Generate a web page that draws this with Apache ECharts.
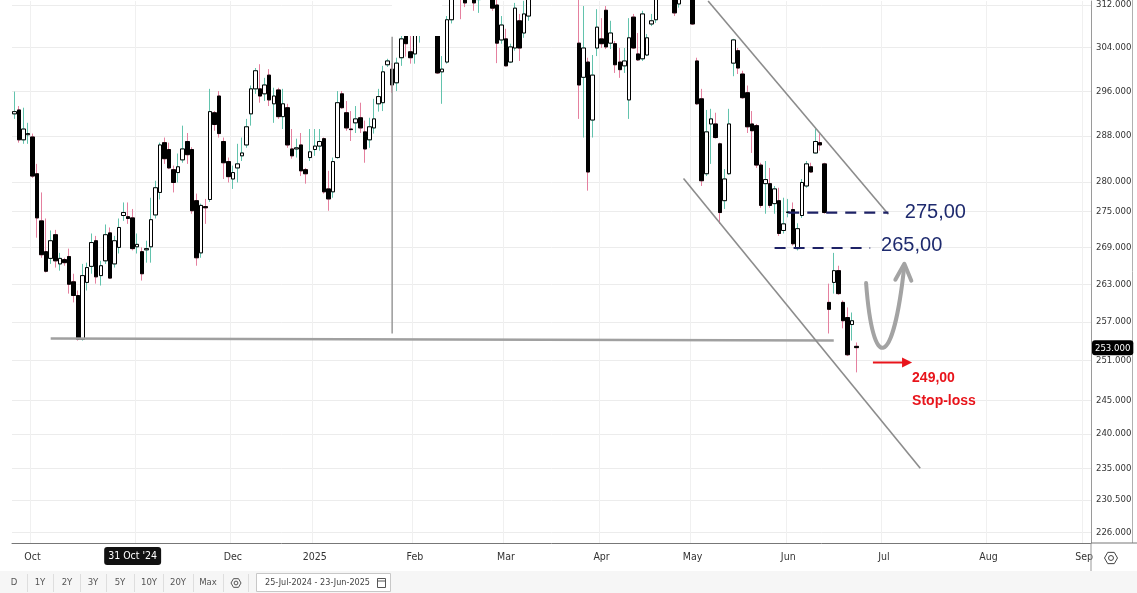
<!DOCTYPE html>
<html><head><meta charset="utf-8">
<script src="https://cdn.jsdelivr.net/npm/echarts@6/dist/echarts.min.js"></script>
<style>html,body{margin:0;padding:0;background:#fff}#c{width:1137px;height:593px}</style>
</head><body><div id="c"></div>
<script>
// ---- trading sessions (categories) ----
const sessionDays = {
  "2024-09":[25,26,27,30],
  "2024-10":[1,2,3,4,7,8,9,10,11,14,15,16,17,18,21,22,23,24,25,28,29,30,31],
  "2024-11":[1,4,5,6,7,8,11,12,13,14,15,18,19,20,21,22,25,26,27,28,29],
  "2024-12":[2,3,4,5,6,9,10,11,12,13,16,17,18,19,20,23,27,30],
  "2025-01":[2,3,6,7,8,9,10,13,14,15,16,17,20,21,22,23,24,27,28,29,30,31],
  "2025-02":[3,4,5,6,7,10,11,12,13,14,17,18,19,20,21,24,25,26,27,28],
  "2025-03":[3,4,5,6,7,10,11,12,13,14,17,18,19,20,21,24,25,26,27,28,31],
  "2025-04":[1,2,3,4,7,8,9,10,11,14,15,16,17,22,23,24,25,28,29,30],
  "2025-05":[2,5,6,7,8,9,12,13,14,15,16,19,20,21,22,23,26,27,28,29,30],
  "2025-06":[2,3,4,5,6,9,10,11,12,13,16,17,18,19,20,23,24,25,26,27,30],
  "2025-07":[1,2,3,4,7,8,9,10,11,14,15,16,17,18,21,22,23,24,25,28,29,30,31],
  "2025-08":[1,4,5,6,7,8,11,12,13,14,15,18,19,20,21,22,25,26,27,28,29],
  "2025-09":[1,2]
};
const monthNames = ["Jan","Feb","Mar","Apr","May","Jun","Jul","Aug","Sep","Oct","Nov","Dec"];

// ---- daily OHLC ----
const open = [
291.9,292.6,287.3,288.2,287.8,281.4,273.4,268.3,267.2,271.1,
266.3,267.0,267.5,263.4,261.2,254.3,263.3,265.9,270.1,264.4,
266.8,271.4,266.3,269.0,274.3,274.1,273.9,269.1,268.3,268.6,
269.1,274.4,278.2,286.8,285.6,282.1,281.6,283.8,287.0,285.6,
276.8,268.1,275.8,277.0,292.1,295.1,287.0,283.5,280.5,282.4,
284.5,286.4,291.9,296.4,296.4,295.5,298.9,293.7,296.2,291.4,
293.0,285.7,285.7,286.4,282.1,284.2,285.6,286.2,287.5,278.8,
278.3,284.2,295.5,292.1,289.2,290.3,291.2,288.7,287.3,289.4,
293.7,293.9,300.8,300.0,297.5,302.1,306.5,303.2,302.8,306.8,
308.0,309.2,307.5,307.0,299.5,301.3,309.2,313.5,316.0,314.5,
312.9,315.0,313.0,314.5,315.5,314.0,312.0,305.4,305.6,301.3,
303.9,309.0,306.7,309.9,313.5,316.2,318.0,317.2,319.5,318.0,
316.5,318.5,317.0,315.5,304.8,298.5,301.3,290.8,303.9,305.6,
311.0,304.8,304.7,301.3,300.6,294.4,309.7,302.8,301.9,302.6,
308.4,309.2,313.5,315.5,316.0,316.5,312.2,314.5,315.5,315.0,
301.5,294.6,281.4,290.1,290.1,286.6,276.8,281.4,301.1,303.4,
299.1,295.7,290.1,289.8,282.9,279.7,279.7,276.3,276.8,271.8,
274.8,275.3,268.8,274.3,279.3,282.6,285.0,286.8,283.1,260.1,
263.3,265.2,260.1,257.7,256.6,253.2];
const close = [
292.3,287.3,289.2,288.4,281.0,273.9,267.8,265.1,270.1,266.8,
267.2,266.5,263.0,261.2,254.3,264.4,265.7,269.8,264.2,266.0,
271.1,264.0,270.1,272.3,274.8,273.8,268.8,269.5,264.7,268.8,
273.6,279.0,286.4,284.0,282.4,279.9,282.6,285.7,284.7,275.1,
267.3,276.0,275.6,292.3,290.0,288.4,283.3,280.9,281.6,283.1,
285.0,289.6,296.4,299.7,295.1,297.1,294.4,295.1,291.4,293.7,
286.4,284.5,285.9,281.9,281.4,285.2,286.2,287.0,278.3,277.1,
283.5,293.9,293.0,289.4,289.1,291.0,289.4,285.7,289.6,291.0,
295.0,299.5,301.5,297.1,301.1,305.6,304.7,302.1,306.5,308.0,
309.2,307.8,308.4,299.3,300.0,309.2,313.5,315.0,314.0,312.4,
314.0,312.4,314.5,315.5,314.0,311.4,304.8,308.2,300.6,304.1,
311.4,303.9,310.3,313.5,316.2,318.0,317.0,319.5,318.2,316.5,
318.5,317.2,315.5,316.8,297.1,303.9,281.7,298.9,307.8,304.7,
304.1,306.7,300.8,299.9,301.5,305.8,303.9,301.7,310.3,305.8,
309.0,313.5,315.5,314.5,318.0,310.5,314.0,315.5,314.0,308.4,
293.7,280.2,288.7,291.0,287.7,274.8,280.5,290.1,305.4,300.2,
294.8,289.6,288.9,282.9,276.0,280.4,276.0,278.8,271.3,272.9,
274.9,269.6,272.1,279.9,283.1,281.7,287.0,286.4,274.8,259.0,
265.2,261.5,257.2,251.9,257.2,253.0];
const low = [
291.0,286.8,286.6,286.6,280.7,270.6,267.3,264.9,266.3,265.7,
265.2,266.0,261.5,260.1,254.1,254.1,262.0,264.7,263.1,262.8,
266.3,263.9,265.7,268.0,273.4,272.9,268.5,268.0,263.6,266.5,
266.5,273.8,277.0,283.1,282.2,278.2,279.9,283.3,283.1,274.6,
266.0,267.3,272.9,276.6,288.9,287.7,280.5,279.9,278.8,279.9,
283.6,285.9,289.8,295.5,293.9,294.2,293.3,290.3,291.0,289.2,
285.9,284.0,284.2,281.0,279.7,283.6,284.5,285.4,278.0,275.1,
277.3,284.0,292.8,288.9,287.1,288.5,288.5,283.3,285.9,288.4,
292.3,292.4,300.4,295.7,296.0,300.6,302.3,301.0,301.0,304.9,
306.5,306.6,306.4,299.1,293.7,301.0,308.5,312.9,309.3,311.6,
312.9,310.9,310.5,313.5,313.2,310.9,301.1,304.7,300.5,301.1,
303.4,301.5,305.8,309.0,312.9,315.5,316.0,316.5,317.0,315.5,
315.8,316.2,314.5,314.0,291.0,287.7,278.5,287.7,302.4,303.9,
303.7,303.7,299.3,298.4,299.3,291.0,303.7,301.5,301.5,302.4,
308.0,308.6,313.0,313.5,314.0,309.9,311.5,313.2,313.0,308.2,
293.5,279.3,281.0,283.1,287.5,272.9,275.4,281.2,298.7,299.1,
294.6,288.5,285.0,282.4,275.6,274.6,275.6,274.6,270.9,271.3,
274.0,269.3,268.5,273.9,279.0,281.6,284.9,285.4,274.6,255.2,
261.5,261.3,256.0,251.7,254.1,249.2];
const high = [
295.9,293.3,293.0,290.3,288.4,283.1,278.2,273.8,271.8,271.9,
268.1,267.3,268.8,264.7,262.0,266.3,266.5,271.3,270.9,266.8,
272.8,272.3,270.9,273.8,276.5,276.5,275.4,271.3,269.0,270.1,
277.3,280.2,286.8,287.7,286.8,282.8,284.9,289.8,288.5,286.0,
278.0,276.3,277.1,296.4,292.4,296.0,287.7,284.2,282.8,286.6,
287.7,291.0,297.0,300.2,300.9,298.4,300.0,296.6,296.6,296.4,
293.7,289.2,287.5,288.5,282.4,289.2,289.2,289.2,287.7,281.9,
284.2,296.0,296.0,294.2,292.4,293.3,293.9,290.7,291.2,294.6,
296.4,300.6,301.9,301.1,302.1,306.8,307.2,306.5,307.5,309.5,
310.5,310.8,309.8,308.0,302.4,309.9,315.0,316.5,317.0,315.5,
315.2,316.0,315.5,316.5,316.8,315.0,313.2,309.9,307.5,304.7,
312.4,310.3,312.8,315.0,317.0,319.2,319.5,320.5,320.8,319.0,
319.4,319.6,318.0,317.5,314.0,311.8,302.1,302.6,311.2,309.5,
311.8,309.0,305.2,303.9,303.9,309.5,310.3,306.7,310.9,306.5,
310.3,314.5,316.5,317.0,319.0,317.5,315.0,316.5,316.5,316.0,
302.1,296.4,292.6,292.8,292.1,286.8,282.2,292.8,305.6,303.9,
299.7,297.0,292.4,290.1,283.3,283.6,282.4,279.3,279.0,277.3,
277.1,276.5,273.0,280.5,283.6,283.3,289.2,288.4,283.3,263.1,
268.1,266.0,260.4,259.3,258.5,253.8];

// ---- axis ----
const yTicks = [312,304,296,288,280,275,269,263,257,251,245,240,235,230.5,226];
const yRange = [224.5, 312.76];
const lastPrice = 253;
const crosshairIdx = 26, crosshairText = "31 Oct '24";

// ---- drawings (category index, price) ----
const supportLine   = [[8, 254.4], [180, 254.1]];
const verticalLine  = [[83, 306.0], [83, 255.2]];
const channelTop    = [[152.4, 312.76], [192, 274.5]];
const channelBottom = [[147, 280.6], [199, 235.0]];
const targets = [
  {label:"275,00", price:274.8, from:170, to:192, textAt:[195.6, 274.8]},
  {label:"265,00", price:268.9, from:167, to:188, textAt:[190.4, 269.3]}
];
const stopLoss = {label:"249,00", note:"Stop-loss", price:250.7, from:188.6, to:197.2, textAt:[197.2, 248.3], noteAt:[197.2, 244.8]};
const swingArrow = {start:[187.1, 263.2], cp1:[188.6, 249.0], cp2:[193.0, 249.5], end:[195.5, 266.0]};

const categories = [];
Object.keys(sessionDays).forEach(ym => sessionDays[ym].forEach(d => categories.push(ym + "-" + String(d).padStart(2,"0"))));

const L = Math.log;
const wickData = open.map((o,i) => [L(o), L(close[i]), L(low[i]), L(high[i])]);
const bodyData = open.map((o,i) => [L(o), L(close[i]), L(Math.min(o,close[i])), L(Math.max(o,close[i]))]);

const isMonthStart = (idx) => idx > 0 && categories[idx].slice(0,7) !== categories[idx-1].slice(0,7);
const FONT = "'Liberation Sans Narrow','DejaVu Sans Condensed','Liberation Sans',Arial,sans-serif";

const chart = echarts.init(document.getElementById('c'), null, {renderer:'canvas'});
chart.setOption({
  animation:false,
  backgroundColor:'#fff',
  grid:{left:12, right:46, top:0, bottom:50, containLabel:false},
  axisPointer:{triggerOn:'none'},
  xAxis:{
    type:'category', data:categories, boundaryGap:true,
    axisLine:{show:true, lineStyle:{color:'#777', width:1}},
    axisTick:{show:false},
    axisLabel:{interval:(i)=>isMonthStart(i), color:'#333', fontSize:10.5, fontFamily:FONT, margin:9,
      formatter:(v)=>{const m=+v.slice(5,7); return m===1 ? v.slice(0,4) : monthNames[m-1];}},
    splitLine:{show:true, interval:(i)=>isMonthStart(i), lineStyle:{color:'#f0f0f0', width:1}},
    axisPointer:{show:true, value:crosshairIdx, status:'show', type:'line', lineStyle:{opacity:0}, triggerTooltip:false,
      label:{show:true, formatter:()=>crosshairText, backgroundColor:'#111', color:'#fff', fontSize:10.5, fontFamily:FONT, padding:[4,4,3,4], margin:4}}
  },
  yAxis:{
    type:'value', position:'right', min:L(yRange[0]), max:L(yRange[1]), scale:true,
    axisLine:{show:true, lineStyle:{color:'#9a9a9a', width:1}},
    axisTick:{show:false, customValues:yTicks.map(L)},
    axisLabel:{customValues:yTicks.map(L), formatter:(v)=>Math.exp(v).toFixed(3), color:'#333', fontSize:9.5, fontFamily:FONT, margin:5},
    splitLine:{show:true, lineStyle:{color:'#ececec', width:1}},
    axisPointer:{show:true, value:L(lastPrice), status:'show', type:'line', lineStyle:{opacity:0}, triggerTooltip:false,
      label:{show:true, formatter:()=>lastPrice.toFixed(3), backgroundColor:'#000', color:'#fff', fontSize:9.5, fontFamily:FONT, padding:[3,3,2,3], margin:1}}
  },
  series:[
    {type:'candlestick', name:'wick', data:wickData, barWidth:4, clip:true, silent:true,
      itemStyle:{color:'rgba(0,0,0,0)', color0:'rgba(0,0,0,0)', borderColor:'#62c3ad', borderColor0:'#e5809f', borderWidth:1}},
    {type:'candlestick', name:'body', data:bodyData, barWidth:4, clip:true, silent:true,
      itemStyle:{color:'#ffffff', color0:'#000000', borderColor:'#000000', borderColor0:'#000000', borderWidth:1}}
  ]
});

// ---- drawings converted from data space ----
function px(i, price){
  const i0 = Math.floor(i), f = i - i0;
  const a = chart.convertToPixel({gridIndex:0}, [i0, L(price)]);
  const b = chart.convertToPixel({gridIndex:0}, [i0+1, L(price)]);
  return [a[0] + (b[0]-a[0])*f, a[1]];
}
const seg = (p, q, style) => ({type:'line', z:50, silent:true, shape:{x1:p[0],y1:p[1],x2:q[0],y2:q[1]}, style});
const g = [];
// occluding label box
g.push({type:'rect', z:40, silent:true, shape:{x:392, y:0, width:50, height:36}, style:{fill:'#fff'}});
g.push(seg(px(...supportLine[0]), px(...supportLine[1]), {stroke:'#a0a0a0', lineWidth:2.5}));
g.push(seg(px(...verticalLine[0]), px(...verticalLine[1]), {stroke:'#a0a0a0', lineWidth:1.6}));
g.push(seg(px(...channelTop[0]), px(...channelTop[1]), {stroke:'#8c8c8c', lineWidth:1.6}));
g.push(seg(px(...channelBottom[0]), px(...channelBottom[1]), {stroke:'#8c8c8c', lineWidth:1.6}));
targets.forEach(t => {
  g.push(seg(px(t.from, t.price), px(t.to, t.price), {stroke:'#1e2266', lineWidth:2.2, lineDash:[11,8]}));
  const p = px(...t.textAt);
  g.push({type:'text', z:50, silent:true, x:p[0], y:p[1], style:{text:t.label, fill:'#1e2a6e', font:"20px 'Liberation Sans',Arial,sans-serif", textVerticalAlign:'middle'}});
});
// swing arrow
{
  const s = px(...swingArrow.start), c1 = px(...swingArrow.cp1), c2 = px(...swingArrow.cp2), e = px(...swingArrow.end);
  g.push({type:'bezierCurve', z:50, silent:true, shape:{x1:s[0],y1:s[1],cpx1:c1[0],cpy1:c1[1],cpx2:c2[0],cpy2:c2[1],x2:e[0],y2:e[1]}, style:{stroke:'#a3a3a3', lineWidth:4, fill:null, lineCap:'round'}});
  g.push({type:'polyline', z:50, silent:true, shape:{points:[[e[0]-9,e[1]+14],[e[0],e[1]-2],[e[0]+7,e[1]+15]]}, style:{stroke:'#a3a3a3', lineWidth:4, fill:null, lineJoin:'round', lineCap:'round'}});
}
// stop-loss arrow
{
  const a = px(stopLoss.from, stopLoss.price), b = px(stopLoss.to, stopLoss.price);
  g.push(seg(a, [b[0]-8, b[1]], {stroke:'#e8141b', lineWidth:2}));
  g.push({type:'polygon', z:50, silent:true, shape:{points:[[b[0],b[1]],[b[0]-10,b[1]-5],[b[0]-10,b[1]+5]]}, style:{fill:'#e8141b'}});
  const t1 = px(...stopLoss.textAt), t2 = px(...stopLoss.noteAt);
  g.push({type:'text', z:50, silent:true, x:t1[0], y:t1[1], style:{text:stopLoss.label, fill:'#e8141b', font:"bold 14px 'Liberation Sans',Arial,sans-serif", textVerticalAlign:'middle'}});
  g.push({type:'text', z:50, silent:true, x:t2[0], y:t2[1], style:{text:stopLoss.note, fill:'#e8141b', font:"bold 14px 'Liberation Sans',Arial,sans-serif", textVerticalAlign:'middle'}});
}
// right border of price scale
g.push({type:'line', z:30, silent:true, shape:{x1:1132.5,y1:0,x2:1132.5,y2:543}, style:{stroke:'#b0b0b0', lineWidth:1}});
g.push({type:'line', z:30, silent:true, shape:{x1:1091,y1:543,x2:1137,y2:543}, style:{stroke:'#777', lineWidth:1}});
g.push({type:'line', z:30, silent:true, shape:{x1:1091,y1:543,x2:1091,y2:571}, style:{stroke:'#999', lineWidth:1}});
// settings icon at axis corner
function hexIcon(cx, cy, r, col){
  const pts=[]; for(let k=0;k<6;k++){const a=Math.PI/3*k; pts.push([cx+r*Math.cos(a), cy+r*Math.sin(a)]);}
  return [{type:'polygon', z:30, silent:true, shape:{points:pts}, style:{fill:'none', stroke:col, lineWidth:1}},
          {type:'circle', z:30, silent:true, shape:{cx, cy, r:r*0.38}, style:{fill:'none', stroke:col, lineWidth:1}}];
}
g.push(...hexIcon(1111, 558, 6.5, '#444'));
// bottom toolbar
g.push({type:'rect', z:20, silent:true, shape:{x:0,y:571,width:1137,height:22}, style:{fill:'#f6f6f6'}});
const btns = [["D",14],["1Y",40],["2Y",67],["3Y",93],["5Y",120],["10Y",149],["20Y",178],["Max",208]];
btns.forEach(([t,x]) => g.push({type:'text', z:25, silent:true, x, y:583, style:{text:t, fill:'#555', font:"9.5px "+FONT, textAlign:'center', textVerticalAlign:'middle'}}));
[27,53,80,106,134,163,193,223,248].forEach(x => g.push({type:'line', z:25, silent:true, shape:{x1:x+0.5,y1:574,x2:x+0.5,y2:592}, style:{stroke:'#dedede', lineWidth:1}}));
g.push(...hexIcon(236, 583, 5, '#555'));
g.push({type:'rect', z:25, silent:true, shape:{x:256.5,y:573.5,width:134,height:18}, style:{fill:'#fff', stroke:'#c8c8c8', lineWidth:1}});
g.push({type:'text', z:26, silent:true, x:265, y:583, style:{text:"25-Jul-2024 - 23-Jun-2025", fill:'#444', font:"9px "+FONT, textVerticalAlign:'middle'}});
g.push({type:'rect', z:26, silent:true, shape:{x:377.5,y:578.5,width:8,height:9}, style:{fill:'none', stroke:'#555', lineWidth:1}});
g.push({type:'line', z:26, silent:true, shape:{x1:377.5,y1:581,x2:385.5,y2:581}, style:{stroke:'#555', lineWidth:1}});
chart.setOption({graphic:g});
</script>
</body></html>
